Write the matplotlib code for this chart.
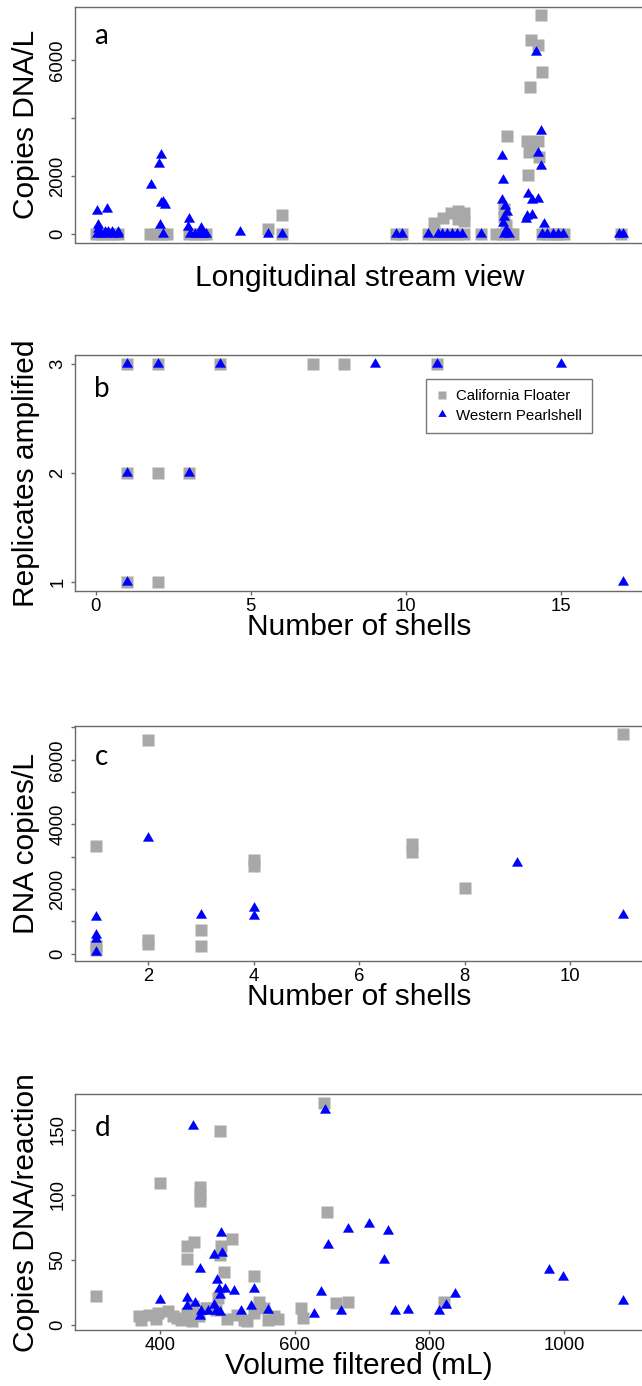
import matplotlib
matplotlib.use('Agg')
import matplotlib.pyplot as plt
from matplotlib.lines import Line2D

plt.rcParams['font.family'] = ['Liberation Sans', 'DejaVu Sans']

W, H, DPI = 642, 1386, 100

# --- a: copies DNA/L along the stream (relative stream position, 0-100) ---
a_cf_pos = [0, 1.0, 2.2, 3.3, 4.3,
            10.3, 11.5, 12.6, 13.6,
            17.7, 18.9, 20.0, 21.1,
            32.8, 35.5, 35.5,
            57.2, 58.3,
            63.2, 64.4, 65.5, 66.6, 67.8, 68.9, 70.1,
            64.5, 66.1, 67.7, 69.0, 70.2, 70.2, 69.0,
            73.3,
            76.3, 77.4, 78.8, 79.5, 77.8, 77.8, 78.2, 78.3,
            84.8, 82.9, 84.2, 85.0, 82.7, 82.2, 82.6, 84.5, 84.2, 83.2, 82.4,
            85.0, 86.2, 87.3, 88.3, 89.2,
            100]
a_cf_val = [0, 0, 0, 0, 0,
            0, 0, 0, 0,
            0, 0, 0, 0,
            180, 636, 0,
            0, 0,
            0, 0, 0, 0, 0, 0, 0,
            388, 559, 729, 784, 729, 443, 500,
            0,
            0, 0, 0, 0, 840, 570, 300, 3397,
            7550, 6690, 6520, 5610, 5066, 3225, 2828, 2658, 3225, 3000, 2034,
            0, 0, 0, 0, 0,
            0]
a_wp_pos = [0.3, 2.1, 0.5, 0.5, 1.7, 2.4, 3.2, 4.2, 0.3, 1.0, 2.2, 3.3, 4.3,
            10.5, 12.1, 12.5, 12.5, 13.2, 12.8, 12.3, 12.9,
            17.8, 17.5, 20.0, 17.9, 18.9, 19.8, 20.5, 21.1,
            27.4,
            32.9, 35.5,
            57.2, 58.3,
            63.2, 65.1, 66.0, 67.0, 67.9, 68.9, 69.8,
            73.3,
            77.4, 77.6, 77.4, 78.0, 78.4, 77.8, 77.6, 78.2, 77.8, 78.8,
            83.9, 84.8, 84.3, 84.8, 82.4, 83.1, 84.3, 82.2, 83.1, 81.9, 85.4,
            85.0, 86.0, 87.0, 88.0, 89.0,
            99.6, 100.4]
a_wp_val = [784, 840, 295, 160, 60, 60, 60, 60, 0, 0, 0, 0, 0,
            1693, 2408, 2715, 1068, 1011, 1100, 295, 0,
            522, 250, 216, 0, 0, 0, 0, 0,
            50,
            0, 0,
            0, 0,
            0, 0, 0, 0, 0, 0, 0,
            0,
            2680, 1860, 1175, 975, 750, 570, 366, 136, 0, 0,
            6290, 3567, 2794, 2351, 1387, 1182, 1196, 613, 636, 525, 330,
            0, 0, 0, 0, 0,
            0, 0]

# --- b: replicates amplified vs number of shells ---
b_cf_shells = [1, 2, 4, 7, 8, 11, 1, 2, 3, 1, 2]
b_cf_reps = [3, 3, 3, 3, 3, 3, 2, 2, 2, 1, 1]
b_wp_shells = [1, 2, 4, 9, 11, 15, 1, 3, 1, 17]
b_wp_reps = [3, 3, 3, 3, 3, 3, 2, 2, 1, 1]

# --- c: DNA copies/L vs number of shells ---
c_cf_shells = [1, 1, 1, 2, 2, 2, 3, 3, 4, 4, 7, 7, 8, 11]
c_cf_copies = [3336, 100, 250, 6600, 300, 430, 725, 228, 2700, 2900, 3150, 3400, 2040, 6786]
c_wp_shells = [1, 1, 1, 1, 2, 3, 4, 4, 9, 11]
c_wp_copies = [1140, 570, 466, 52, 3574, 1191, 1399, 1160, 2818, 1191]

# --- d: copies DNA/reaction vs volume filtered ---
d_cf_vol = [305, 400, 460, 460, 460, 490, 644, 648, 441, 451, 441, 491, 490, 508, 496,
            540, 486, 548, 610, 613, 661, 679, 822,
            370, 384, 397, 412, 426, 441, 459, 468, 483, 515, 525, 540, 555, 569,
            372, 395, 420, 432, 448, 500, 530, 560, 575, 450, 470]
d_cf_copies = [22.5, 109, 106, 100, 95, 149, 170.5, 87, 61, 63.6, 51, 61, 54, 66, 41,
               38, 21, 18, 13, 5.6, 17, 17.7, 17.5,
               6.8, 8, 9.3, 10.6, 5.5, 9.3, 6.8, 13, 11.8, 8, 4.2, 9, 13, 6.8,
               4, 5, 7, 4, 3.5, 5, 3, 4, 5, 15, 13]
d_wp_vol = [450, 645, 491, 481, 492, 460, 485, 488, 497, 490, 510.6, 540, 401, 440, 440,
            452, 461, 460, 481, 471, 490, 483, 520.6, 535.4, 560, 628.5, 639, 650, 680,
            710, 739, 732.7, 669, 749.7, 768, 814.5, 825, 838.7, 978, 998, 1087]
d_wp_copies = [152.7, 165, 70.8, 53.5, 55.5, 43.4, 35, 28, 27.5, 23, 25.9, 27.7, 19.4, 21, 15,
               17, 10.6, 6.8, 15.6, 10.6, 10, 10.6, 10.6, 14.4, 12, 8.6, 25.8, 61.7, 73.8,
               77.6, 72, 49.8, 11, 11, 12, 11, 15.7, 24, 42.7, 37, 18.2]

GRAY = '#a8a8a8'
BLUE = '#0000ff'
FRAME = '#6a6a6a'
TRI = [(-1, -0.577), (1, -0.577), (0, 1.155)]


def r_lim(vals):
    # R style axis range: data range plus 4% each side
    lo, hi = min(vals), max(vals)
    pad = 0.04 * (hi - lo)
    return lo - pad, hi + pad


def make_ax(top, bottom, left=74.5, right=644):
    ax = fig.add_axes([left / W, 1 - bottom / H, (right - left) / W, (bottom - top) / H])
    for sp in ax.spines.values():
        sp.set_color(FRAME)
        sp.set_linewidth(1.0)
    ax.tick_params(length=3, width=1, color=FRAME, labelsize=13.3, pad=2)
    ax.tick_params(axis='y', pad=3)
    return ax


def set_y(ax, ticks, labels=None):
    if labels is None:
        labels = [str(t) for t in ticks]
    ax.set_yticks(ticks, labels, rotation=90, va='center', ha='right')


def scatter(ax, xc, yc, xw, yw):
    ax.plot(xc, yc, ls='none', marker='s', ms=8.6, color=GRAY, mec='none')
    ax.plot(xw, yw, ls='none', marker=TRI, ms=9.2, color=BLUE, mec='none')


def labels(ax, xlabel, ylabel, letter, letter_y):
    ax.annotate(xlabel, xy=(0.5, 0), xycoords='axes fraction', xytext=(0, -36 * 0.72),
                textcoords='offset points', ha='center', va='center', fontsize=21.5)
    ax.annotate(ylabel, xy=(0, 0.5), xycoords='axes fraction', xytext=(-48.5 * 0.72, 0),
                textcoords='offset points', ha='center', va='center', rotation=90,
                fontsize=21.5)
    fig.text(94.5 / W, 1 - letter_y / H, letter, ha='left', va='baseline',
             fontsize=20, family=['Lato', 'DejaVu Sans'])


fig = plt.figure(figsize=(W / DPI, H / DPI), dpi=DPI)

# a
ax = make_ax(6.7, 242.5)
scatter(ax, a_cf_pos, a_cf_val, a_wp_pos, a_wp_val)
ax.set_xlim(r_lim(a_cf_pos + a_wp_pos))
ax.set_ylim(r_lim(a_cf_val + a_wp_val))
ax.set_xticks([])
set_y(ax, [0, 2000, 4000, 6000], ['0', '2000', '', '6000'])
labels(ax, 'Longitudinal stream view', 'Copies DNA/L', 'a', 44)

# b
ax = make_ax(355, 591)
scatter(ax, b_cf_shells, b_cf_reps, b_wp_shells, b_wp_reps)
ax.set_xlim(r_lim([0] + b_wp_shells))
ax.set_ylim(r_lim(b_cf_reps))
ax.set_xticks([0, 5, 10, 15])
set_y(ax, [1, 2, 3])
labels(ax, 'Number of shells', 'Replicates amplified', 'b', 396.7)
handles = [Line2D([], [], ls='none', marker='s', ms=5.8, color=GRAY, mec='none'),
           Line2D([], [], ls='none', marker=TRI, ms=7.0, color=BLUE, mec='none')]
leg = ax.legend(handles, ['California Floater', 'Western Pearlshell'], loc='upper left',
                bbox_to_anchor=(425.7 / W, 1 - 379 / H), bbox_transform=fig.transFigure,
                fancybox=False, edgecolor='#555555', fontsize=10.8, handlelength=0.8,
                handletextpad=0.5, borderpad=0.7, labelspacing=0.35, borderaxespad=0)
leg.get_frame().set_linewidth(1.0)

# c
ax = make_ax(725.7, 960.7)
scatter(ax, c_cf_shells, c_cf_copies, c_wp_shells, c_wp_copies)
ax.set_xlim(r_lim(c_cf_shells))
ax.set_ylim(r_lim(c_cf_copies + c_wp_copies))
ax.set_xticks([2, 4, 6, 8, 10])
set_y(ax, list(range(0, 7001, 1000)), ['0', '', '2000', '', '4000', '', '6000', ''])
labels(ax, 'Number of shells', 'DNA copies/L', 'c', 765)

# d
ax = make_ax(1094.3, 1330)
scatter(ax, d_cf_vol, d_cf_copies, d_wp_vol, d_wp_copies)
ax.set_xlim(r_lim(d_cf_vol + d_wp_vol))
ax.set_ylim(r_lim(d_cf_copies + d_wp_copies))
ax.set_xticks([400, 600, 800, 1000])
set_y(ax, [0, 50, 100, 150])
labels(ax, 'Volume filtered (mL)', 'Copies DNA/reaction', 'd', 1136)

fig.savefig('out.png', dpi=DPI)
